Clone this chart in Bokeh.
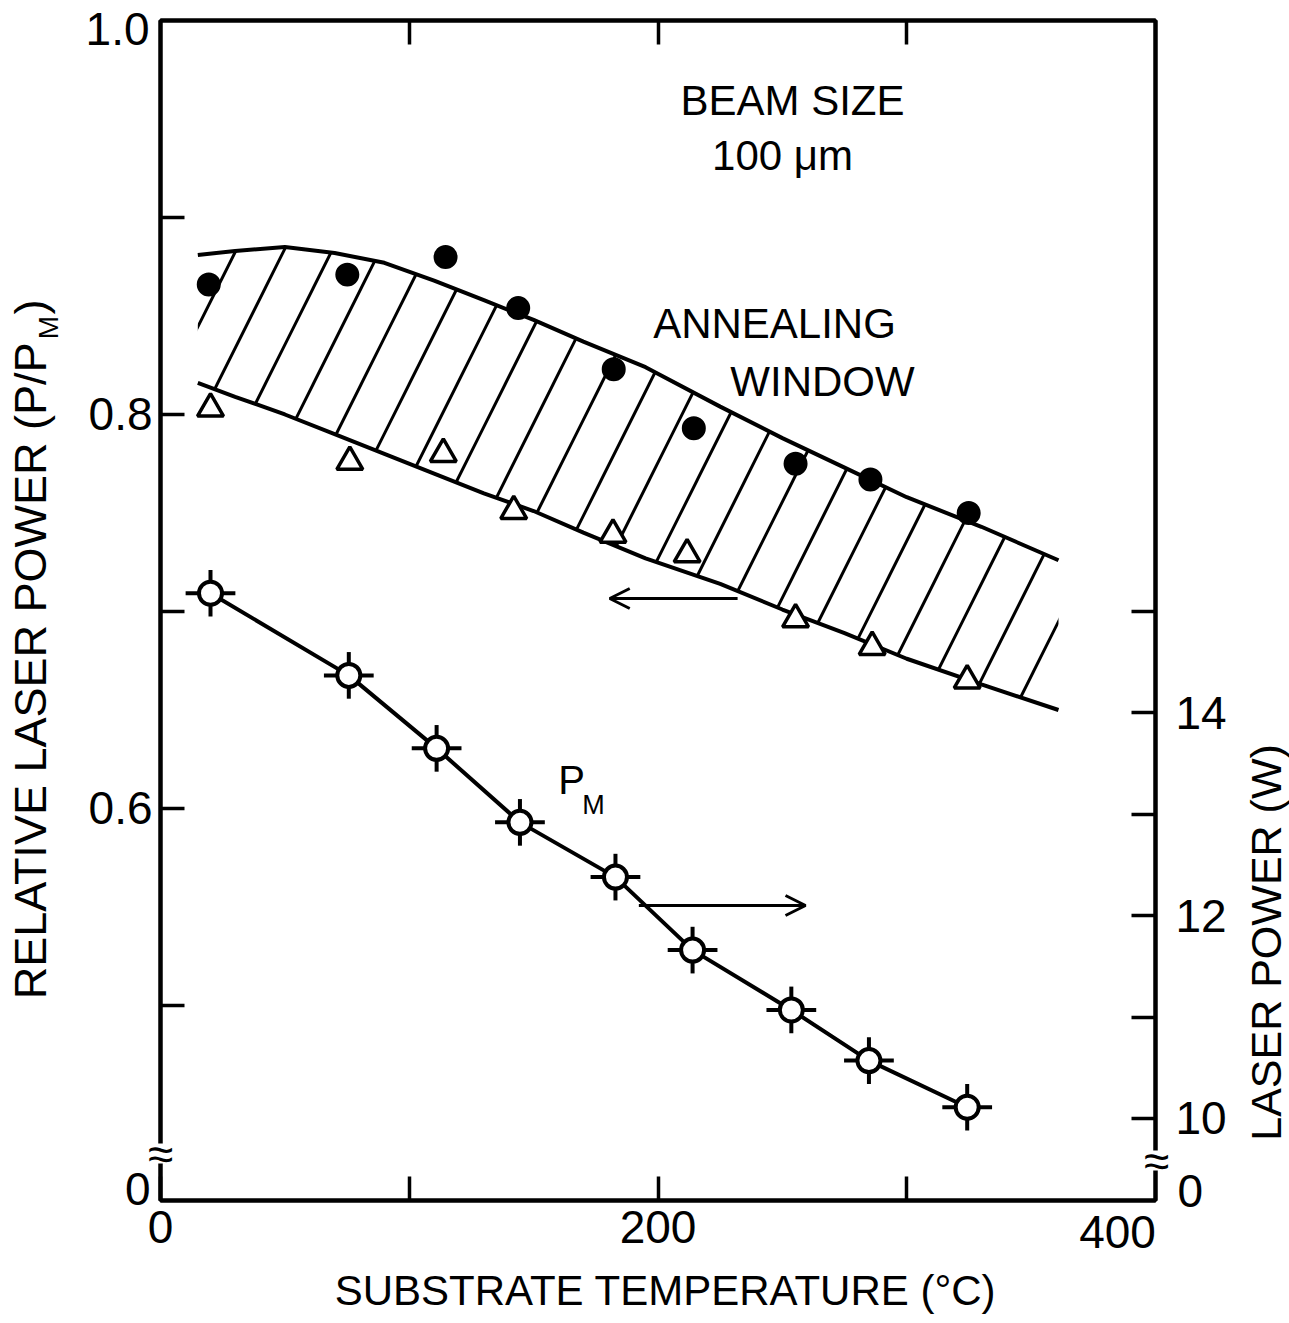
from bokeh.plotting import figure
from bokeh.models import (Range1d, LinearAxis, FixedTicker, Arrow, OpenHead,
                          PrintfTickFormatter)
from bokeh.core.properties import value
from bokeh.embed import file_html
from bokeh.resources import INLINE

# ---------------- data ----------------
# upper limit of annealing window (filled circles), relative power P/P_M
temp_max = [19.4, 75.1, 114.6, 143.8, 182.2, 214.4, 255.3, 285.4, 324.9]
rel_max = [0.866, 0.871, 0.880, 0.854, 0.823, 0.793, 0.775, 0.767, 0.750]
# lower limit of annealing window (open triangles)
temp_min = [20.1, 76.1, 113.7, 142.0, 181.9, 211.7, 255.3, 286.1, 324.3]
rel_min = [0.803, 0.776, 0.780, 0.751, 0.739, 0.729, 0.696, 0.682, 0.665]
# melting power P_M (W), right axis
temp_pm = [20.1, 75.7, 111.0, 144.5, 182.9, 213.9, 253.6, 284.8, 324.3]
power_pm = [15.18, 14.37, 13.65, 12.92, 12.38, 11.66, 11.07, 10.57, 10.11]
pm_err_power = 0.23
pm_err_temp = 10
# boundaries of the hatched annealing window
window_t = [15, 30, 50, 70, 90, 110, 130, 150, 170, 195, 225, 250, 275, 300, 330, 361]
window_upper = [0.881, 0.883, 0.885, 0.882, 0.877, 0.868, 0.858, 0.848, 0.837, 0.824,
                0.804, 0.788, 0.773, 0.758, 0.743, 0.726]
window_lower = [0.816, 0.809, 0.800, 0.790, 0.780, 0.770, 0.760, 0.751, 0.740, 0.727,
                0.714, 0.701, 0.689, 0.676, 0.663, 0.650]
# axis ticks (labels "1.0" and "400" are drawn separately, see below)
x_major = [0, 200]
x_minor = [100, 300]
left_major = [0.6, 0.8]
left_minor = [0.5, 0.7, 0.9]
right_major = [10, 12, 14]
right_minor = [11, 13, 15]

# ---------------- layout constants ----------------
W, H = 1289, 1323
FL, FR, FT, FB = 160, 1155, 20, 1200   # frame edges in px
X0, X1 = 0, 400
Y0, Y1 = 0.401, 1.0
P0, P1 = 9.19, 20.83
FONT = "Liberation Sans"
TICK_FS = "46px"


def px2x(px):
    return X0 + (px - FL) * (X1 - X0) / (FR - FL)


def py2y(py):
    return Y1 - (py - FT) * (Y1 - Y0) / (FB - FT)


p = figure(width=W, height=H, x_range=Range1d(X0, X1), y_range=Range1d(Y0, Y1),
           output_backend="svg", toolbar_location=None,
           min_border_left=FL, min_border_right=W - FR,
           min_border_top=FT, min_border_bottom=H - FB)
p.extra_y_ranges = {"pw": Range1d(P0, P1)}
p.xgrid.visible = False
p.ygrid.visible = False
p.outline_line_color = "black"
p.outline_line_width = 4
p.background_fill_color = "white"
p.border_fill_color = "white"


def style_axis(ax, size=TICK_FS):
    ax.axis_line_width = 4
    ax.axis_line_color = "black"
    ax.major_tick_in = 24
    ax.major_tick_out = 0
    ax.minor_tick_in = 24
    ax.minor_tick_out = 0
    ax.major_tick_line_width = 3.5
    ax.minor_tick_line_width = 3.5
    ax.major_tick_line_color = "black"
    ax.minor_tick_line_color = "black"
    ax.major_label_text_font = FONT
    ax.major_label_text_font_size = size
    ax.major_label_text_color = "black"
    ax.major_label_standoff = 8


xa = p.xaxis[0]
xa.ticker = FixedTicker(ticks=x_major, minor_ticks=x_minor)
style_axis(xa)
xa.major_label_standoff = 10

ya = p.yaxis[0]
ya.ticker = FixedTicker(ticks=left_major, minor_ticks=left_minor)
ya.formatter = PrintfTickFormatter(format="%.1f")
style_axis(ya)

ra = LinearAxis(y_range_name="pw", ticker=FixedTicker(ticks=right_major, minor_ticks=right_minor))
style_axis(ra)
ra.major_label_standoff = 20
p.add_layout(ra, "right")

ta = LinearAxis(ticker=FixedTicker(ticks=[], minor_ticks=x_minor + [200]))
style_axis(ta, size="1px")
ta.major_label_text_alpha = 0
ta.major_label_standoff = 0
p.add_layout(ta, "above")

# ---------------- annealing window ----------------
p.varea(x=window_t, y1=window_lower, y2=window_upper, fill_color=None, fill_alpha=0,
        hatch_pattern="/", hatch_color="black", hatch_weight=3, hatch_scale=96)
p.line(window_t, window_upper, line_width=4, line_color="black")
p.line(window_t, window_lower, line_width=4, line_color="black")

p.scatter(temp_max, rel_max, marker="circle", size=22, fill_color="black",
          line_color="black", line_width=2)
p.scatter(temp_min, rel_min, marker="triangle", size=26, fill_color="white",
          line_color="black", line_width=3.5)

# ---------------- P_M curve ----------------
p.line(temp_pm, power_pm, y_range_name="pw", line_width=4, line_color="black")
p.segment(x0=temp_pm, x1=temp_pm,
          y0=[v - pm_err_power for v in power_pm], y1=[v + pm_err_power for v in power_pm],
          y_range_name="pw", line_width=4, line_color="black")
p.segment(x0=[t - pm_err_temp for t in temp_pm], x1=[t + pm_err_temp for t in temp_pm],
          y0=power_pm, y1=power_pm, y_range_name="pw", line_width=4, line_color="black")
p.scatter(temp_pm, power_pm, y_range_name="pw", marker="circle", size=23,
          fill_color="white", line_color="black", line_width=4)

# ---------------- arrows ----------------
arrow_left = dict(x_start=232, x_end=180.6, y=0.7066)
arrow_right = dict(x_start=192.3, x_end=259.3, y=12.10)
p.add_layout(Arrow(end=OpenHead(size=20, line_width=3, line_color="black"),
                   x_start=arrow_left["x_start"], y_start=arrow_left["y"],
                   x_end=arrow_left["x_end"], y_end=arrow_left["y"],
                   line_width=3, line_color="black"))
p.add_layout(Arrow(end=OpenHead(size=20, line_width=3, line_color="black"),
                   x_start=arrow_right["x_start"], y_start=arrow_right["y"],
                   x_end=arrow_right["x_end"], y_end=arrow_right["y"],
                   y_range_name="pw", line_width=3, line_color="black"))


# ---------------- texts (overlay level, so not clipped to the frame) ----------------
def txt(text, px, py, size, align="center", baseline="middle", angle=0):
    p.text(x=[px2x(px)], y=[py2y(py)], text=[text], angle=angle, angle_units="deg",
           text_font=value(FONT), text_font_size=value(size), text_color="black",
           text_align=value(align), text_baseline=value(baseline), level="overlay")


txt("BEAM SIZE", 792, 100, "42px")
txt("100 \u03bcm", 782, 155, "42px")
txt("ANNEALING", 774, 323, "42px")
txt("WINDOW", 822, 381, "42px")
txt("P", 571, 779, "40px")
txt("M", 593, 804, "27px")

txt("SUBSTRATE TEMPERATURE (\u00b0C)", 665, 1290, "42px")
txt("LASER POWER (W)", 1265, 942, "43px", angle=90)
txt("RELATIVE LASER POWER (P/P", 30, 342, "45px", align="right", angle=90)
txt("M", 48, 327, "28px", angle=90)
txt(")", 30, 314, "45px", align="left", angle=90)

# tick labels placed as in the reference
txt("1.0", 149, 28, TICK_FS, align="right")
txt("400", 1117, 1231, TICK_FS)

# broken-axis zeros and break marks
txt("0", 150, 1188, TICK_FS, align="right")
txt("0", 1177, 1190, TICK_FS, align="left")
breaks_px = [(160, 1153), (1156, 1160)]
p.rect(x=[px2x(b[0]) for b in breaks_px], y=[py2y(b[1]) for b in breaks_px],
       width=12, height=20, width_units="screen", height_units="screen",
       fill_color="white", line_color=None, level="overlay")
for bx, by in breaks_px:
    txt("\u2248", bx, by, "46px")

open("out.html", "w").write(file_html(p, INLINE))
